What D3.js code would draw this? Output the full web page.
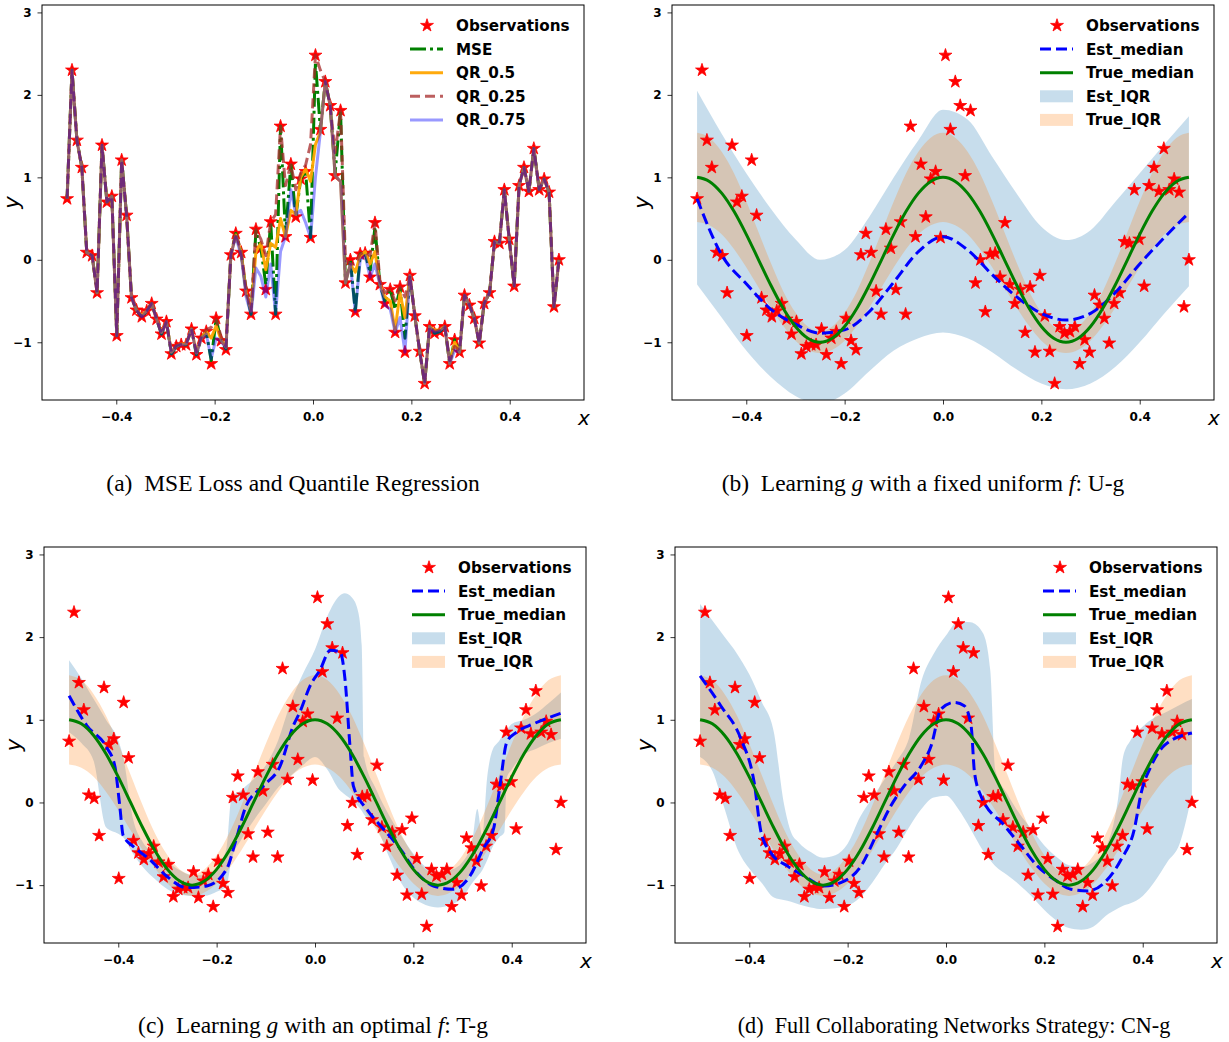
<!DOCTYPE html>
<html>
<head>
<meta charset="utf-8">
<script src="https://cdn.jsdelivr.net/npm/d3@7"></script>
<style>
body { margin: 0; background: #fff; }
svg text { font-family: "DejaVu Sans", sans-serif; }
</style>
</head>
<body>
<svg width="1229" height="1042"></svg>
<script>
var svg = d3.select("svg");

// observation grid (100 points on [-0.5, 0.5])
var obsX = [-0.5,-0.49,-0.48,-0.47,-0.46,-0.449,-0.439,-0.429,-0.419,-0.409,
  -0.399,-0.389,-0.379,-0.369,-0.359,-0.348,-0.338,-0.328,-0.318,-0.308,
  -0.298,-0.288,-0.278,-0.268,-0.258,-0.247,-0.237,-0.227,-0.217,-0.207,
  -0.197,-0.187,-0.177,-0.167,-0.157,-0.146,-0.136,-0.126,-0.116,-0.106,
  -0.096,-0.086,-0.076,-0.066,-0.056,-0.045,-0.035,-0.025,-0.015,-0.005,
  0.005,0.015,0.025,0.035,0.045,0.056,0.066,0.076,0.086,0.096,
  0.106,0.116,0.126,0.136,0.146,0.157,0.167,0.177,0.187,0.197,
  0.207,0.217,0.227,0.237,0.247,0.258,0.268,0.278,0.288,0.298,
  0.308,0.318,0.328,0.338,0.348,0.359,0.369,0.379,0.389,0.399,
  0.409,0.419,0.429,0.439,0.449,0.46,0.47,0.48,0.49,0.5];

var obsY = [0.74,2.30,1.45,1.12,0.09,0.05,-0.40,1.39,0.70,0.77,
  -0.92,1.21,0.54,-0.46,-0.61,-0.69,-0.62,-0.53,-0.72,-0.90,
  -0.75,-1.14,-1.05,-1.03,-1.03,-0.84,-1.15,-0.95,-0.87,-1.26,
  -0.71,-0.98,-1.09,0.06,0.32,0.09,-0.38,-0.66,0.37,0.14,
  -0.36,0.46,-0.66,1.62,0.28,1.16,0.52,0.98,1.07,0.27,
  2.48,1.58,2.16,1.87,1.02,1.81,-0.28,0.00,-0.63,0.07,
  0.08,-0.21,0.45,-0.30,-0.53,-0.36,-0.88,-0.33,-1.12,-0.19,
  -0.68,-1.11,-1.50,-0.81,-0.89,-0.87,-0.81,-1.26,-0.97,-1.12,
  -0.43,-0.55,-0.71,-1.01,-0.53,-0.40,0.22,0.20,0.85,0.25,
  -0.32,0.90,1.12,0.83,1.35,0.85,0.98,0.82,-0.57,0.00];

// panel (a) fitted curves on the observation grid
var mseY = [0.74,2.30,1.45,1.12,0.09,0.05,-0.40,1.39,0.70,0.77,
  -0.92,1.21,0.54,-0.46,-0.61,-0.69,-0.62,-0.53,-0.72,-0.90,
  -0.75,-1.14,-1.05,-1.03,-1.03,-0.84,-1.15,-0.95,-0.87,-1.22,
  -0.72,-0.97,-1.08,0.06,0.32,0.09,-0.38,-0.66,0.35,0.14,
  -0.30,0.46,-0.66,1.62,0.30,1.16,0.52,0.98,1.07,0.27,
  2.40,1.58,2.16,1.87,1.05,1.81,-0.28,0.00,-0.63,0.07,
  0.08,-0.15,0.40,-0.30,-0.50,-0.36,-0.60,-0.35,-0.95,-0.19,
  -0.68,-1.11,-1.50,-0.81,-0.89,-0.87,-0.81,-1.26,-0.97,-1.12,
  -0.43,-0.55,-0.71,-1.01,-0.53,-0.40,0.22,0.20,0.85,0.25,
  -0.32,0.90,1.12,0.83,1.35,0.85,0.98,0.82,-0.57,0.00];
var q50Y = [0.74,2.30,1.45,1.12,0.09,0.05,-0.40,1.39,0.70,0.77,
  -0.92,1.21,0.54,-0.46,-0.61,-0.67,-0.62,-0.53,-0.72,-0.88,
  -0.75,-1.12,-1.05,-1.02,-1.02,-0.84,-1.13,-0.95,-0.87,-0.95,
  -0.80,-0.97,-1.06,0.06,0.30,0.09,-0.40,-0.62,0.10,0.20,
  -0.12,0.20,0.15,0.50,0.28,0.60,0.55,1.00,1.10,0.95,
  1.40,1.55,2.16,1.87,1.02,0.95,-0.28,-0.05,-0.15,0.05,
  0.10,-0.05,0.10,-0.30,-0.45,-0.50,-0.85,-0.40,-0.70,-0.19,
  -0.68,-1.11,-1.50,-0.81,-0.85,-0.85,-0.81,-1.26,-1.00,-1.12,
  -0.43,-0.55,-0.71,-1.01,-0.53,-0.40,0.22,0.20,0.85,0.25,
  -0.32,0.90,1.12,0.83,1.35,0.85,0.98,0.82,-0.57,0.00];
var q25Y = [0.74,2.30,1.45,1.12,0.09,0.05,-0.40,1.39,0.70,0.77,
  -0.92,1.21,0.54,-0.46,-0.61,-0.69,-0.62,-0.53,-0.72,-0.90,
  -0.75,-1.12,-1.04,-1.02,-1.02,-0.84,-1.12,-0.93,-0.85,-0.82,
  -0.72,-0.93,-1.05,0.06,0.33,0.10,-0.35,-0.62,0.37,0.25,
  0.05,0.46,0.55,1.62,0.90,1.16,0.85,1.05,1.15,1.40,
  2.48,2.30,2.16,1.87,1.30,1.81,0.00,-0.05,-0.05,0.07,
  0.10,0.05,0.45,-0.25,-0.40,-0.36,-0.50,-0.33,-0.45,-0.19,
  -0.68,-1.11,-1.50,-0.81,-0.87,-0.85,-0.81,-1.22,-1.05,-1.10,
  -0.43,-0.55,-0.71,-1.01,-0.53,-0.40,0.22,0.20,0.85,0.25,
  -0.32,0.90,1.12,0.83,1.35,0.85,0.98,0.82,-0.57,0.00];
var q75Y = [0.74,2.30,1.45,1.12,0.09,0.05,-0.40,1.39,0.70,0.77,
  -0.92,1.21,0.54,-0.46,-0.61,-0.69,-0.62,-0.53,-0.72,-0.90,
  -0.75,-1.14,-1.05,-1.03,-1.03,-0.84,-1.15,-0.95,-0.90,-1.20,
  -0.95,-0.98,-1.08,0.06,0.28,0.05,-0.45,-0.66,-0.10,-0.20,
  -0.45,-0.05,-0.66,0.10,0.28,0.85,0.55,0.60,0.45,0.27,
  1.00,1.55,2.16,1.87,1.02,0.95,-0.28,-0.05,-0.63,0.00,
  0.05,-0.21,-0.05,-0.30,-0.55,-0.60,-0.88,-0.70,-1.12,-0.19,
  -0.68,-1.11,-1.50,-0.81,-0.89,-0.87,-0.81,-1.26,-1.10,-1.12,
  -0.43,-0.55,-0.71,-1.01,-0.53,-0.40,0.22,0.20,0.85,0.25,
  -0.32,0.90,1.12,0.83,1.35,0.85,0.98,0.82,-0.57,0.00];

// true median and true IQR (same in b, c, d)
var tX = [-0.5,-0.475,-0.45,-0.425,-0.4,-0.375,-0.35,-0.325,-0.3,-0.275,
  -0.25,-0.225,-0.2,-0.175,-0.15,-0.125,-0.1,-0.075,-0.05,-0.025,
  0,0.025,0.05,0.075,0.1,0.125,0.15,0.175,0.2,0.225,
  0.25,0.275,0.3,0.325,0.35,0.375,0.4,0.425,0.45,0.475,0.5];
var trueMed = [1,0.951,0.809,0.588,0.309,0,-0.309,-0.588,-0.809,-0.951,
  -1,-0.951,-0.809,-0.588,-0.309,0,0.309,0.588,0.809,0.951,
  1,0.951,0.809,0.588,0.309,0,-0.309,-0.588,-0.809,-0.951,
  -1,-0.951,-0.809,-0.588,-0.309,0,0.309,0.588,0.809,0.951,1];
var trueHi = [1.54,1.48,1.31,1.05,0.71,0.335,-0.04,-0.38,-0.64,-0.81,
  -0.87,-0.81,-0.64,-0.38,-0.04,0.335,0.71,1.05,1.31,1.48,
  1.54,1.48,1.31,1.05,0.71,0.335,-0.04,-0.38,-0.64,-0.81,
  -0.87,-0.81,-0.64,-0.38,-0.04,0.335,0.71,1.05,1.31,1.48,1.54];
var trueLo = [0.46,0.42,0.31,0.13,-0.09,-0.335,-0.58,-0.80,-0.98,-1.09,
  -1.13,-1.09,-0.98,-0.80,-0.58,-0.335,-0.09,0.13,0.31,0.42,
  0.46,0.42,0.31,0.13,-0.09,-0.335,-0.58,-0.80,-0.98,-1.09,
  -1.13,-1.09,-0.98,-0.80,-0.58,-0.335,-0.09,0.13,0.31,0.42,0.46];

// panel (b) U-g estimates
var bX = [-0.5,-0.45,-0.4,-0.35,-0.3,-0.25,-0.2,-0.15,-0.1,-0.05,0,
  0.05,0.1,0.15,0.2,0.25,0.3,0.35,0.4,0.45,0.5];
var bMed = [0.74,0.06,-0.29,-0.60,-0.78,-0.89,-0.85,-0.63,-0.27,0.10,0.28,
  0.12,-0.18,-0.45,-0.65,-0.73,-0.65,-0.40,-0.05,0.27,0.57];
var bHi = [2.05,1.53,1.05,0.62,0.25,0.00,0.12,0.52,1.00,1.45,1.82,
  1.70,1.25,0.80,0.40,0.24,0.36,0.70,1.05,1.40,1.74];
var bLo = [-0.30,-0.70,-1.10,-1.42,-1.65,-1.75,-1.62,-1.35,-1.10,-0.95,-0.88,
  -0.95,-1.12,-1.33,-1.50,-1.57,-1.50,-1.30,-1.00,-0.65,-0.32];

// panel (c) T-g estimates
var cX = [-0.5,-0.464,-0.424,-0.407,-0.397,-0.39,-0.37,-0.336,-0.302,-0.261,
  -0.22,-0.18,-0.16,-0.14,-0.105,-0.071,-0.044,-0.031,-0.01,0.01,
  0.031,0.051,0.061,0.071,0.078,0.105,0.139,0.173,0.207,0.241,
  0.281,0.315,0.342,0.363,0.376,0.39,0.41,0.444,0.5];
var cMed = [1.29,0.93,0.67,0.44,-0.04,-0.40,-0.53,-0.69,-0.89,-1.03,
  -1.01,-0.81,-0.44,-0.04,0.20,0.44,0.93,1.09,1.41,1.60,
  1.84,1.82,1.49,0.69,0.20,-0.08,-0.32,-0.56,-0.85,-1.01,
  -1.05,-0.89,-0.56,-0.32,0.20,0.73,0.85,0.95,1.08];
var cBandX = [-0.5,-0.475,-0.45,-0.425,-0.4,-0.39,-0.37,-0.35,-0.325,-0.3,
  -0.275,-0.25,-0.225,-0.2,-0.18,-0.17,-0.15,-0.125,-0.1,-0.075,
  -0.05,-0.025,0,0.025,0.05,0.06,0.075,0.088,0.095,0.1,
  0.125,0.15,0.175,0.2,0.225,0.25,0.275,0.3,0.32,0.33,
  0.34,0.35,0.36,0.375,0.385,0.39,0.4,0.425,0.45,0.475,0.5];
var cHi = [1.72,1.50,1.25,1.00,0.75,0.55,-0.20,-0.48,-0.62,-0.72,
  -0.82,-0.88,-0.88,-0.80,-0.55,0.05,0.15,0.28,0.45,0.75,
  1.20,1.55,1.85,2.25,2.50,2.53,2.48,2.30,1.90,0.55,
  0.15,-0.15,-0.40,-0.62,-0.78,-0.85,-0.82,-0.72,-0.45,-0.08,
  -0.40,0.30,0.62,0.75,0.85,0.88,0.95,1.00,1.08,1.20,1.33];
var cLo = [0.85,0.72,0.50,-0.30,-0.38,-0.42,-0.62,-0.78,-0.93,-1.05,
  -1.11,-1.13,-1.13,-1.08,-1.01,-0.70,-0.45,-0.22,-0.02,0.18,
  0.32,0.45,0.55,0.40,0.15,0.10,0.03,-0.05,-0.10,-0.15,
  -0.30,-0.65,-0.97,-1.15,-1.24,-1.27,-1.24,-1.15,-0.97,-0.90,
  -0.82,-0.70,-0.55,-0.42,-0.36,0.30,0.40,0.58,0.65,0.72,0.77];

// panel (d) CN-g estimates
var dX = [-0.5,-0.458,-0.417,-0.39,-0.376,-0.356,-0.322,-0.288,-0.248,-0.214,
  -0.173,-0.139,-0.112,-0.085,-0.051,-0.03,-0.01,0.017,0.037,0.051,
  0.058,0.071,0.119,0.153,0.186,0.22,0.254,0.288,0.322,0.356,
  0.383,0.397,0.417,0.444,0.5];
var dMed = [1.53,1.17,0.77,0.24,-0.36,-0.61,-0.77,-0.89,-1.01,-0.97,
  -0.77,-0.36,-0.04,0.20,0.44,0.69,1.13,1.21,1.17,0.93,
  0.36,0.08,-0.28,-0.53,-0.77,-0.93,-1.05,-1.07,-0.97,-0.69,
  -0.32,0.12,0.44,0.69,0.84];
var dBandX = [-0.5,-0.475,-0.45,-0.425,-0.4,-0.375,-0.35,-0.33,-0.315,-0.3,
  -0.275,-0.25,-0.225,-0.2,-0.175,-0.15,-0.125,-0.1,-0.075,-0.05,
  -0.025,0,0.025,0.05,0.075,0.09,0.1,0.125,0.15,0.175,
  0.2,0.225,0.25,0.275,0.3,0.325,0.35,0.36,0.375,0.4,
  0.425,0.45,0.475,0.5];
var dHi = [2.40,2.20,2.00,1.80,1.55,1.22,0.85,0.00,-0.36,-0.48,
  -0.60,-0.67,-0.64,-0.50,-0.18,0.05,0.28,0.50,0.78,1.47,
  1.80,2.02,2.19,2.18,2.05,1.60,0.40,0.10,-0.14,-0.33,
  -0.52,-0.66,-0.76,-0.78,-0.72,-0.55,0.05,0.55,0.75,0.92,
  1.03,1.10,1.18,1.25];
var dLo = [0.55,0.38,-0.08,-0.55,-0.80,-0.97,-1.15,-1.18,-1.20,-1.23,
  -1.27,-1.29,-1.28,-1.25,-1.15,-0.97,-0.75,-0.55,-0.30,-0.08,
  0.06,0.08,-0.08,-0.32,-0.58,-0.70,-0.77,-0.88,-1.00,-1.14,
  -1.30,-1.43,-1.52,-1.54,-1.50,-1.37,-1.28,-1.25,-1.22,-1.13,
  -0.95,-0.72,-0.50,0.10];

var xTicks = [-0.4, -0.2, 0.0, 0.2, 0.4];
var yTicks = [-1, 0, 1, 2, 3];

var panels = [
  {id: "a", left: 42, right: 584, top: 5, bottom: 400, capX: 293, capY: 491, capSize: 23.5,
   tag: "(a)", cap: [["MSE Loss and Quantile Regression", false]]},
  {id: "b", left: 672, right: 1214, top: 5, bottom: 400, capX: 923, capY: 491, capSize: 23.5,
   tag: "(b)", cap: [["Learning ", false], ["g", true], [" with a fixed uniform ", false], ["f", true], [": U-g", false]],
   bx: bX, med: bMed, hi: bHi, lo: bLo, medX: bX},
  {id: "c", left: 44, right: 586, top: 547, bottom: 943, capX: 313, capY: 1033, capSize: 23.5,
   tag: "(c)", cap: [["Learning ", false], ["g", true], [" with an optimal ", false], ["f", true], [": T-g", false]],
   bx: cBandX, med: cMed, hi: cHi, lo: cLo, medX: cX},
  {id: "d", left: 675, right: 1217, top: 547, bottom: 943, capX: 954, capY: 1033, capSize: 22.2,
   tag: "(d)", cap: [["Full Collaborating Networks Strategy: CN-g", false]],
   bx: dBandX, med: dMed, hi: dHi, lo: dLo, medX: dX}
];

var star = d3.symbol().type(d3.symbolStar).size(52);
var defs = svg.append("defs");

panels.forEach(drawPanel);

function drawPanel(p) {
  var x = d3.scaleLinear().domain([-0.551, 0.551]).range([p.left, p.right]);
  var y = d3.scaleLinear().domain([-1.70, 3.09]).range([p.bottom, p.top]);
  var g = svg.append("g");

  defs.append("clipPath").attr("id", "clip-" + p.id)
    .append("rect")
      .attr("x", p.left).attr("y", p.top)
      .attr("width", p.right - p.left).attr("height", p.bottom - p.top);

  var plot = g.append("g").attr("clip-path", "url(#clip-" + p.id + ")");
  var line = d3.line().curve(d3.curveMonotoneX);

  if (p.id == "a") {
    // observations under the fitted lines
    plot.selectAll(".obs").data(obsX).enter().append("path")
      .attr("d", star)
      .attr("transform", function(d, i) { return "translate(" + x(d) + "," + y(obsY[i]) + ")"; })
      .style("fill", "red").style("stroke", "red").style("stroke-width", 0.8);

    var series = [
      {v: mseY, color: "green", op: 1, dash: "16,4,3,4"},
      {v: q50Y, color: "orange", op: 0.95, dash: null},
      {v: q25Y, color: "brown", op: 0.75, dash: "10,5"},
      {v: q75Y, color: "blue", op: 0.4, dash: null}
    ];
    var straight = d3.line();
    series.forEach(function(s) {
      plot.append("path")
        .attr("d", straight(obsX.map(function(d, i) { return [x(d), y(s.v[i])]; })))
        .style("fill", "none").style("stroke", s.color)
        .style("stroke-opacity", s.op).style("stroke-width", 3)
        .style("stroke-dasharray", s.dash)
        .style("stroke-linejoin", "round");
    });

    legend(g, p, [
      {label: "Observations", kind: "star"},
      {label: "MSE", kind: "line", color: "green", op: 1, dash: "16,4,3,4"},
      {label: "QR_0.5", kind: "line", color: "orange", op: 0.95},
      {label: "QR_0.25", kind: "line", color: "brown", op: 0.75, dash: "10,5"},
      {label: "QR_0.75", kind: "line", color: "blue", op: 0.4}
    ]);
  } else {
    var band = d3.area().curve(d3.curveMonotoneX)
      .x(function(d) { return x(d[0]); })
      .y0(function(d) { return y(d[1]); })
      .y1(function(d) { return y(d[2]); });

    plot.append("path")
      .attr("d", band(p.bx.map(function(d, i) { return [d, p.lo[i], p.hi[i]]; })))
      .style("fill", "#1f77b4").style("fill-opacity", 0.25);

    plot.append("path")
      .attr("d", band(tX.map(function(d, i) { return [d, trueLo[i], trueHi[i]]; })))
      .style("fill", "#ff7f0e").style("fill-opacity", 0.25);

    plot.selectAll(".obs").data(obsX).enter().append("path")
      .attr("d", star)
      .attr("transform", function(d, i) { return "translate(" + x(d) + "," + y(obsY[i]) + ")"; })
      .style("fill", "red").style("stroke", "red").style("stroke-width", 0.8);

    plot.append("path")
      .attr("d", line(p.medX.map(function(d, i) { return [x(d), y(p.med[i])]; })))
      .style("fill", "none").style("stroke", "blue").style("stroke-width", 3)
      .style("stroke-dasharray", "11,5");

    plot.append("path")
      .attr("d", line(tX.map(function(d, i) { return [x(d), y(trueMed[i])]; })))
      .style("fill", "none").style("stroke", "green").style("stroke-width", 3);

    legend(g, p, [
      {label: "Observations", kind: "star"},
      {label: "Est_median", kind: "line", color: "blue", op: 1, dash: "11,5"},
      {label: "True_median", kind: "line", color: "green", op: 1},
      {label: "Est_IQR", kind: "patch", color: "#1f77b4"},
      {label: "True_IQR", kind: "patch", color: "#ff7f0e"}
    ]);
  }

  // axes
  var xAxis = g.append("g").attr("transform", "translate(0," + p.bottom + ")")
    .call(d3.axisBottom(x).tickValues(xTicks).tickFormat(d3.format(".1f")).tickSize(4.5).tickPadding(8));
  var yAxis = g.append("g").attr("transform", "translate(" + p.left + ",0)")
    .call(d3.axisLeft(y).tickValues(yTicks).tickFormat(d3.format("d")).tickSize(4.5).tickPadding(6));
  [xAxis, yAxis].forEach(function(a) {
    a.select(".domain").remove();
    a.selectAll("text").style("font-family", "DejaVu Sans").style("font-weight", "bold").style("font-size", "12px");
    a.selectAll("line").style("stroke", "#000").style("stroke-width", 0.8);
  });

  g.append("rect")
    .attr("x", p.left).attr("y", p.top)
    .attr("width", p.right - p.left).attr("height", p.bottom - p.top)
    .style("fill", "none").style("stroke", "#000").style("stroke-width", 1);

  g.append("text").text("x")
    .attr("x", p.right).attr("y", p.bottom + 25)
    .attr("text-anchor", "middle")
    .style("font-size", "20px").style("font-style", "italic");
  g.append("text").text("y")
    .attr("transform", "translate(" + (p.left - 23) + "," + ((p.top + p.bottom) / 2) + ") rotate(-90)")
    .attr("text-anchor", "middle")
    .style("font-size", "21px").style("font-style", "italic");

  // caption
  var cap = svg.append("text")
    .attr("x", p.capX).attr("y", p.capY)
    .attr("text-anchor", "middle")
    .style("font-family", "'Liberation Serif', 'Times New Roman', serif")
    .style("font-size", p.capSize + "px");
  cap.append("tspan").text(p.tag + "\u2002").style("font-family", "'Liberation Serif', serif");
  p.cap.forEach(function(c) {
    cap.append("tspan").text(c[0])
      .style("font-family", "'Liberation Serif', serif")
      .style("font-style", c[1] ? "italic" : "normal");
  });
}

function legend(g, p, items) {
  var lg = g.append("g");
  items.forEach(function(it, i) {
    var cy = p.top + 20.5 + i * 23.6;
    if (it.kind == "star") {
      lg.append("path").attr("d", star)
        .attr("transform", "translate(" + (p.right - 157) + "," + cy + ")")
        .style("fill", "red").style("stroke", "red").style("stroke-width", 0.8);
    } else if (it.kind == "line") {
      lg.append("line")
        .attr("x1", p.right - 174).attr("x2", p.right - 141)
        .attr("y1", cy).attr("y2", cy)
        .style("stroke", it.color).style("stroke-opacity", it.op)
        .style("stroke-width", 3).style("stroke-dasharray", it.dash || null);
    } else {
      lg.append("rect")
        .attr("x", p.right - 174).attr("y", cy - 6)
        .attr("width", 33).attr("height", 12)
        .style("fill", it.color).style("fill-opacity", 0.25);
    }
    lg.append("text").text(it.label)
      .attr("x", p.right - 128).attr("y", cy)
      .attr("dy", "0.36em")
      .style("font-weight", "bold").style("font-size", "15.2px");
  });
}
</script>
</body>
</html>
